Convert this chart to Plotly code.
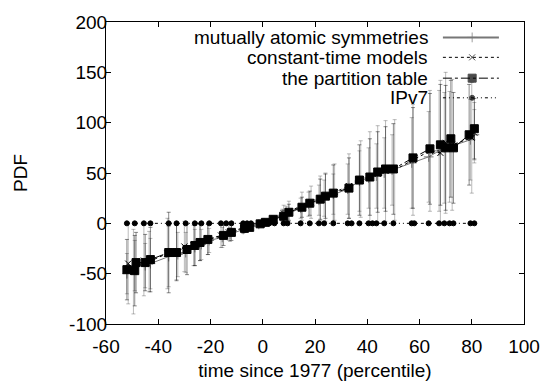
import plotly.graph_objects as go

# ---- data ----
x_mu = [-52,-49,-45,-43,-36,-32.5,-29.5,-26,-23.5,-20.5,-15.5,-12.5,-7.5,-4.5,-1.5,0.5,3.5,7.5,9,14.5,17.5,21.5,23.5,27,32.5,37,40.5,43.5,46.5,49.5,57,63.5,67.5,69.5,71.5,79.5,81]
y_mu = [-50,-42,-42,-40,-33,-31,-29,-24,-21,-17,-14,-11,-6,-3,-1,0.5,3,8,9,15,19,23,25,29,34,42,45,47,50,53,60,66,72,75,76,83,88]
e_mu = [20,25,22,25,30,22,20,18,15,12,10,7,4,3,2,2,3,6,8,10,12,15,18,20,25,30,30,32,35,35,45,45,60,55,55,40,25]

x_ct = [-51.5,-49.5,-45.5,-43.5,-36.5,-33,-30,-26.5,-24,-21,-16,-13,-7,-5,-1,1,4.5,8,10,15,18.5,22,24,27.5,33,37.5,41,44,47,50.5,57.5,64,68,70,72.5,80,81]
y_ct = [-40,-48,-37,-38,-30,-28,-23,-22,-19,-16,-12,-9,-4,-3,0,1,4,10,12,17,21,25,26,31,37,44,46,49,52,53,63,72,70,80,78,85,90]
e_ct = [40,42,35,30,35,28,25,20,18,15,12,8,5,3,2,2,3,8,10,14,16,22,24,28,32,38,45,48,50,50,55,60,72,70,65,55,30]

x_pt = [-52,-49,-48.5,-45,-43,-36,-33,-29,-26,-24,-21,-15,-12,-7,-5,-1,1,4,8,10,15,18,22,24,27,33,37,41,44,47,50,57.5,64,68,70,72,73,79,81]
y_pt = [-46,-47,-39,-39,-36,-29,-29,-26,-22,-19,-16,-12,-9,-5,-4,-0.5,1,4,7,11,16,20,24,27,30,35,43,46,51,54,54,65,74,78,75,84,75,88,94]
e_pt = [30,35,30,28,32,40,28,25,20,18,15,10,8,4,3,2,2,3,6,8,10,12,20,22,28,30,35,38,40,42,45,50,55,60,62,58,55,50,30]

x_ip = [-52,-49,-45.5,-43,-36,-33,-29.5,-26,-23.5,-20.5,-16,-14,-12,-7.5,-6,-4.5,-1.5,0.5,2.5,4.5,8,9.5,14.5,18,21.5,23.5,27,32.5,34,37,40.5,42,43.5,46.5,50,57,58,63.5,67.5,69.5,71.5,73,79.5,81]
y_ip = [0,0,0,0,0,0,0,0,0,0,0,0,0,0,0,0,0,0,0,0,0,0,0,0,0,0,0,0,0,0,0,0,0,0,0,0,0,0,0,0,0,0,0,0]

names = ["mutually atomic symmetries", "constant-time models", "the partition table", "IPv7"]
x_ticks = [-60, -40, -20, 0, 20, 40, 60, 80, 100]
y_ticks = [-100, -50, 0, 50, 100, 150, 200]

FONT = "Liberation Sans, Arial, Helvetica, sans-serif"
FS = 19

styles = [
    dict(color="#777777", dash="solid", symbol="cross-thin", size=7, ecol="rgba(90,90,90,0.6)"),
    dict(color="#000000", dash="dot", symbol="x-thin", size=6, ecol="rgba(60,60,60,0.5)"),
    dict(color="#000000", dash="dashdot", symbol="square", size=8, ecol="rgba(0,0,0,0.65)"),
    dict(color="#000000", dash="3px,3px,1px,3px,1px,3px", symbol="circle", size=5, ecol="rgba(0,0,0,0.7)"),
]

fig = go.Figure()
series = [(x_mu, y_mu, e_mu), (x_ct, y_ct, e_ct), (x_pt, y_pt, e_pt), (x_ip, y_ip, None)]
for (xs, ys, es), st, nm in zip(series, styles, names):
    kw = {}
    if es is not None:
        kw["error_y"] = dict(type="data", array=es, visible=True, color=st["ecol"], thickness=0.7, width=2)
    fig.add_trace(go.Scatter(
        x=xs, y=ys, name=nm, mode="lines+markers", showlegend=False,
        line=dict(color=st["color"], width=1, dash=st["dash"]),
        marker=dict(symbol=st["symbol"], size=st["size"], color=st["color"],
                    line=dict(color=st["color"], width=1)),
        **kw))

# ---- gnuplot-style key (text left of sample) ----
key_rows = [0.949, 0.883, 0.814, 0.749]
for st, nm, ry in zip(styles, names, key_rows):
    fig.add_trace(go.Scatter(
        x=[0.806, 0.876, 0.940], y=[ry, ry, ry], xaxis="x2", yaxis="y2",
        mode="lines+markers", showlegend=False, hoverinfo="skip",
        line=dict(color=st["color"], width=1 if st["dash"] != "solid" else 2, dash=st["dash"]),
        marker=dict(symbol=st["symbol"], size=[0, st["size"], 0], color=st["color"],
                    line=dict(color=st["color"], width=1))))
    fig.add_annotation(x=0.775, y=ry, xref="paper", yref="paper", text=nm,
                       showarrow=False, xanchor="right", yanchor="middle",
                       font=dict(family=FONT, size=FS, color="black"))

axis_common = dict(showgrid=False, zeroline=False, showline=True, linecolor="black",
                   linewidth=1.2, mirror="allticks", ticks="inside", ticklen=5,
                   tickcolor="black", tickfont=dict(family=FONT, size=FS, color="black"))

fig.update_layout(
    width=556, height=389,
    margin=dict(l=106, r=32, t=13, b=65),
    paper_bgcolor="white", plot_bgcolor="white",
    font=dict(family=FONT, size=FS, color="black"),
    xaxis=dict(range=[-60, 100], tickvals=x_ticks, ticktext=[str(v) for v in x_ticks],
               ticklabelstandoff=5,
               title=dict(text="time since 1977 (percentile)", standoff=7,
                          font=dict(family=FONT, size=FS)), **axis_common),
    yaxis=dict(range=[-100, 200], tickvals=y_ticks, ticktext=[str(v) for v in y_ticks],
               ticklabelstandoff=-6,
               title=dict(text="PDF", standoff=36, font=dict(family=FONT, size=FS)),
               **axis_common),
    xaxis2=dict(overlaying="x", range=[0, 1], visible=False),
    yaxis2=dict(overlaying="y", range=[0, 1], visible=False),
    showlegend=False,
)

fig.write_html("out.html")
